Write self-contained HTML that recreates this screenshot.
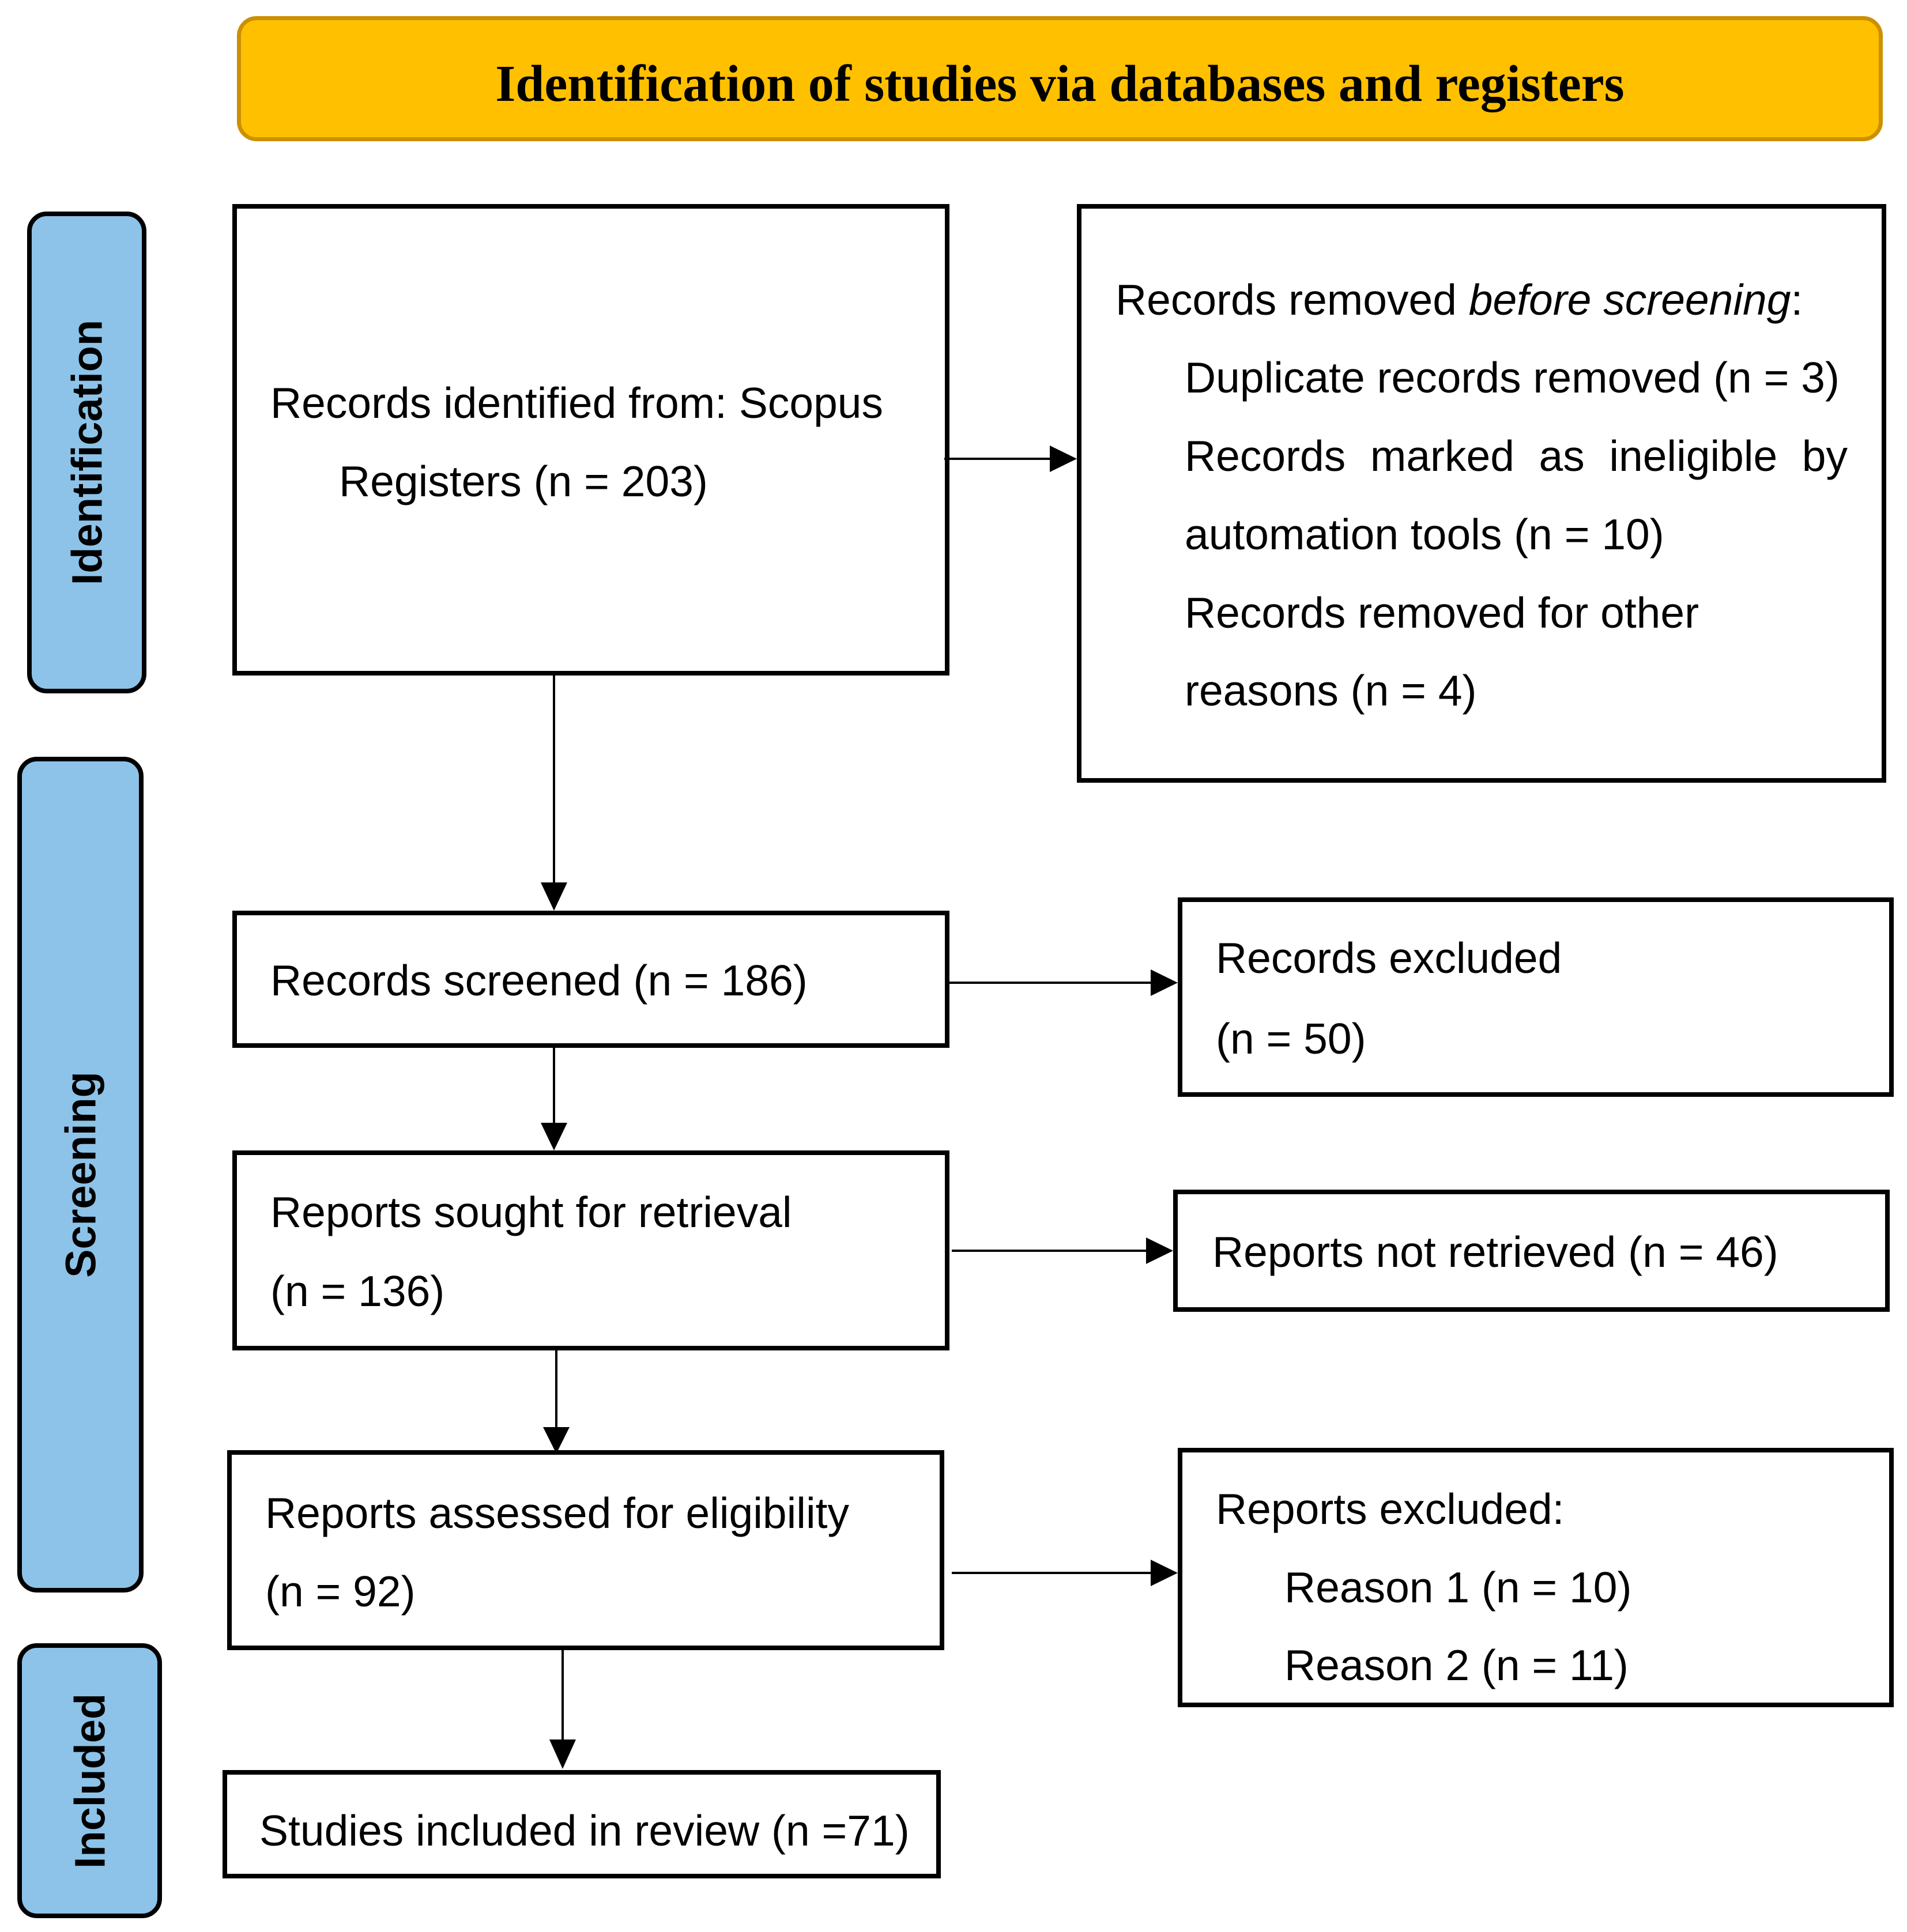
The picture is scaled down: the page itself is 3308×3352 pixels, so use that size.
<!DOCTYPE html>
<html><head><meta charset="utf-8"><style>
html,body{margin:0;padding:0;background:#fff}
body{width:3308px;height:3352px;position:relative;overflow:hidden;font-family:"Liberation Sans",Arial,sans-serif;color:#000}
.b{position:absolute;border:8px solid #000;box-sizing:border-box;background:#fff}
.t{position:absolute;font-size:75px;line-height:80px;white-space:nowrap}
.tab{position:absolute;background:#8DC3E8;border:8px solid #000;box-sizing:border-box;border-radius:34px}
.tl{position:absolute;font-weight:bold;font-size:74px;white-space:nowrap;transform:translate(-50%,-50%) rotate(-90deg);left:50%;top:50%}
</style></head><body>
<div style="position:absolute;left:411px;top:28px;width:2855px;height:217px;background:#FFC000;border:7px solid #CC9000;box-sizing:border-box;border-radius:34px"></div>
<div style="position:absolute;left:411px;top:28px;width:2855px;height:217px;line-height:235px;text-align:center;font-family:'Liberation Serif',serif;font-weight:bold;font-size:90px">Identification of studies via databases and registers</div>

<div class="tab" style="left:47px;top:367px;width:207px;height:836px"><div class="tl">Identification</div></div>
<div class="tab" style="left:30px;top:1313px;width:219px;height:1450px"><div class="tl">Screening</div></div>
<div class="tab" style="left:30px;top:2851px;width:251px;height:477px"><div class="tl">Included</div></div>

<div class="b" style="left:403px;top:354px;width:1244px;height:818px"></div>
<div class="t" style="left:469px;top:659px">Records identified from: Scopus</div>
<div class="t" style="left:588px;top:795px">Registers (n = 203)</div>

<div class="b" style="left:1868px;top:354px;width:1404px;height:1004px"></div>
<div class="t" style="left:1935px;top:480px">Records removed <i>before screening</i>:</div>
<div class="t" style="left:2055px;top:615px">Duplicate records removed (n = 3)</div>
<div class="t" style="left:2055px;top:751px;width:1150px;text-align:justify;text-align-last:justify">Records marked as ineligible by</div>
<div class="t" style="left:2055px;top:887px">automation tools (n = 10)</div>
<div class="t" style="left:2055px;top:1023px">Records removed for other</div>
<div class="t" style="left:2055px;top:1158px">reasons (n = 4)</div>

<div class="b" style="left:403px;top:1580px;width:1244px;height:238px"></div>
<div class="t" style="left:469px;top:1661px">Records screened (n = 186)</div>

<div class="b" style="left:2043px;top:1557px;width:1242px;height:346px"></div>
<div class="t" style="left:2109px;top:1622px">Records excluded</div>
<div class="t" style="left:2109px;top:1762px">(n = 50)</div>

<div class="b" style="left:403px;top:1996px;width:1244px;height:347px"></div>
<div class="t" style="left:469px;top:2063px">Reports sought for retrieval</div>
<div class="t" style="left:469px;top:2200px">(n = 136)</div>

<div class="b" style="left:2035px;top:2064px;width:1243px;height:212px"></div>
<div class="t" style="left:2103px;top:2132px">Reports not retrieved (n = 46)</div>

<div class="b" style="left:394px;top:2516px;width:1244px;height:347px"></div>
<div class="t" style="left:460px;top:2585px">Reports assessed for eligibility</div>
<div class="t" style="left:460px;top:2721px">(n = 92)</div>

<div class="b" style="left:2043px;top:2512px;width:1242px;height:450px"></div>
<div class="t" style="left:2109px;top:2578px">Reports excluded:</div>
<div class="t" style="left:2228px;top:2714px">Reason 1 (n = 10)</div>
<div class="t" style="left:2228px;top:2849px">Reason 2 (n = 11)</div>

<div class="b" style="left:386px;top:3071px;width:1246px;height:188px"></div>
<div class="t" style="left:450px;top:3136px">Studies included in review (n =71)</div>

<svg width="3308" height="3352" style="position:absolute;left:0;top:0" xmlns="http://www.w3.org/2000/svg">
<g stroke="#000" stroke-width="4" fill="none">
<line x1="1638" y1="796" x2="1826" y2="796"/>
<line x1="961" y1="1172" x2="961" y2="1535"/>
<line x1="1647" y1="1705" x2="2000" y2="1705"/>
<line x1="961" y1="1818" x2="961" y2="1952"/>
<line x1="1651" y1="2170" x2="1992" y2="2170"/>
<line x1="965" y1="2343" x2="965" y2="2480"/>
<line x1="1651" y1="2729" x2="2000" y2="2729"/>
<line x1="976" y1="2858" x2="976" y2="3022"/>
</g>
<g fill="#000">
<polygon points="1821,773 1868,796 1821,819"/>
<polygon points="938,1531 984,1531 961,1580"/>
<polygon points="1996,1682 2043,1705 1996,1728"/>
<polygon points="938,1948 984,1948 961,1996"/>
<polygon points="1988,2147 2035,2170 1988,2193"/>
<polygon points="942,2476 988,2476 965,2522"/>
<polygon points="1996,2706 2043,2729 1996,2752"/>
<polygon points="953,3018 999,3018 976,3069"/>
</g>
</svg>
</body></html>
